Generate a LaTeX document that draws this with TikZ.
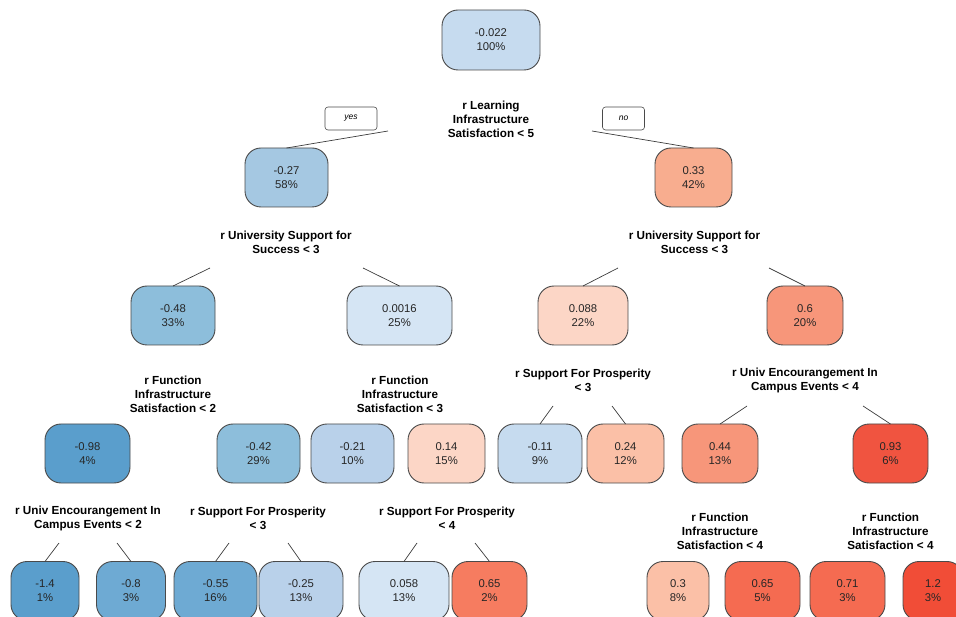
\documentclass[tikz,border=0pt]{standalone}
\usepackage{fontspec}
\setmainfont{Liberation Sans}
\usepackage{tikz}

\definecolor{boxline}{HTML}{4A4A4A}
\definecolor{linegray}{HTML}{3C3C3C}
\definecolor{txt}{HTML}{262626}
\definecolor{b1}{HTML}{C6DBEF}
\definecolor{b2}{HTML}{A5C8E2}
\definecolor{b3}{HTML}{8DBEDB}
\definecolor{b4}{HTML}{D5E5F4}
\definecolor{b5}{HTML}{5A9ECC}
\definecolor{b6}{HTML}{B9D1EA}
\definecolor{b7}{HTML}{6EAAD3}
\definecolor{r1}{HTML}{F8AD8F}
\definecolor{r2}{HTML}{FCD6C6}
\definecolor{r3}{HTML}{F7967A}
\definecolor{r4}{HTML}{FBC0A7}
\definecolor{r5}{HTML}{F05440}
\definecolor{r6}{HTML}{F67C60}
\definecolor{r7}{HTML}{F56B51}
\definecolor{r8}{HTML}{F14D37}

\begin{document}
\begin{tikzpicture}[x=1pt,y=-1pt,
  leaf/.style={draw=boxline, line width=0.9pt, rounded corners=16pt, minimum height=59pt, inner sep=0pt, outer sep=0pt, align=center, text=txt, font=\fontsize{11.3}{14}\selectfont},
  split/.style={align=center, inner sep=0pt, font=\fontsize{11.7}{14}\selectfont\bfseries},
  tag/.style={draw=boxline, line width=0.6pt, rounded corners=3pt, minimum height=23pt, inner sep=0pt, font=\fontsize{8.5}{10}\selectfont\itshape},
  branch/.style={draw=linegray, line width=0.7pt}]
\useasboundingbox (0,0) rectangle (956,617);
\clip (0,0) rectangle (956,617);

\node[leaf, fill=b1, minimum width=98pt, minimum height=60pt] (n1) at (491,40) {-0.022\\100\%};
\node[split] (s1) at (491,119) {r Learning\\Infrastructure\\Satisfaction < 5};
\node[tag, minimum width=52pt] (yes) at (351,118.5) {yes};
\node[tag, minimum width=42pt] (no) at (623.5,118.5) {no};

\node[leaf, fill=b2, minimum width=83pt] (n2) at (286.5,177.5) {-0.27\\58\%};
\node[leaf, fill=r1, minimum width=77pt] (n3) at (693.5,177.5) {0.33\\42\%};
\node[split] (s2) at (286,242) {r University Support for\\Success < 3};
\node[split] (s3) at (694.5,242) {r University Support for\\Success < 3};

\node[leaf, fill=b3, minimum width=84pt] (n4) at (173,315.5) {-0.48\\33\%};
\node[leaf, fill=b4, minimum width=105pt] (n5) at (399.5,315.5) {0.0016\\25\%};
\node[leaf, fill=r2, minimum width=90pt] (n6) at (583,315.5) {0.088\\22\%};
\node[leaf, fill=r3, minimum width=76pt] (n7) at (805,315.5) {0.6\\20\%};
\node[split] (s4) at (173,394.5) {r Function\\Infrastructure\\Satisfaction < 2};
\node[split] (s5) at (400,394.5) {r Function\\Infrastructure\\Satisfaction < 3};
\node[split] (s6) at (583,380) {r Support For Prosperity\\< 3};
\node[split] (s7) at (805,380) {r Univ Encourangement In\\Campus Events < 4};

\node[leaf, fill=b5, minimum width=85pt] (n8) at (87.5,453.5) {-0.98\\4\%};
\node[leaf, fill=b3, minimum width=83pt] (n9) at (258.5,453.5) {-0.42\\29\%};
\node[leaf, fill=b6, minimum width=83pt] (n10) at (352.5,453.5) {-0.21\\10\%};
\node[leaf, fill=r2, minimum width=77pt] (n11) at (446.5,453.5) {0.14\\15\%};
\node[leaf, fill=b1, minimum width=84pt] (n12) at (540,453.5) {-0.11\\9\%};
\node[leaf, fill=r4, minimum width=77pt] (n13) at (625.5,453.5) {0.24\\12\%};
\node[leaf, fill=r3, minimum width=76pt] (n14) at (720,453.5) {0.44\\13\%};
\node[leaf, fill=r5, minimum width=75pt] (n15) at (890.5,453.5) {0.93\\6\%};
\node[split] (s8) at (88,518) {r Univ Encourangement In\\Campus Events < 2};
\node[split] (s9) at (258,518) {r Support For Prosperity\\< 3};
\node[split] (s10) at (447,518) {r Support For Prosperity\\< 4};
\node[split] (s11) at (720,531.5) {r Function\\Infrastructure\\Satisfaction < 4};
\node[split] (s12) at (890.5,531.5) {r Function\\Infrastructure\\Satisfaction < 4};

\node[leaf, fill=b5, minimum width=68pt] (n16) at (45,591) {-1.4\\1\%};
\node[leaf, fill=b7, minimum width=69pt] (n17) at (131,591) {-0.8\\3\%};
\node[leaf, fill=b7, minimum width=83pt] (n18) at (215.5,591) {-0.55\\16\%};
\node[leaf, fill=b6, minimum width=84pt] (n19) at (301,591) {-0.25\\13\%};
\node[leaf, fill=b4, minimum width=90pt] (n20) at (404,591) {0.058\\13\%};
\node[leaf, fill=r6, minimum width=75pt] (n21) at (489.5,591) {0.65\\2\%};
\node[leaf, fill=r4, minimum width=62pt] (n22) at (678,591) {0.3\\8\%};
\node[leaf, fill=r7, minimum width=75pt] (n23) at (762.5,591) {0.65\\5\%};
\node[leaf, fill=r7, minimum width=75pt] (n24) at (847.5,591) {0.71\\3\%};
\node[leaf, fill=r8, minimum width=60pt] (n25) at (933,591) {1.2\\3\%};

\coordinate (s1l) at (388,131);
\coordinate (s1r) at (592,131);
\coordinate (s2l) at (210,268);
\coordinate (s2r) at (363,268);
\coordinate (s3l) at (618,268);
\coordinate (s3r) at (769,268);
\coordinate (s6l) at (553,406);
\coordinate (s6r) at (612,406);
\coordinate (s7l) at (747,406);
\coordinate (s7r) at (863,406);
\coordinate (s8l) at (59,543);
\coordinate (s8r) at (117,543);
\coordinate (s9l) at (229,543);
\coordinate (s9r) at (288,543);
\coordinate (s10l) at (417,543);
\coordinate (s10r) at (475,543);

\draw[branch] (s1l) -- (n2.north);
\draw[branch] (s1r) -- (n3.north);
\draw[branch] (s2l) -- (n4.north);
\draw[branch] (s2r) -- (n5.north);
\draw[branch] (s3l) -- (n6.north);
\draw[branch] (s3r) -- (n7.north);
\draw[branch] (s6l) -- (n12.north);
\draw[branch] (s6r) -- (n13.north);
\draw[branch] (s7l) -- (n14.north);
\draw[branch] (s7r) -- (n15.north);
\draw[branch] (s8l) -- (n16.north);
\draw[branch] (s8r) -- (n17.north);
\draw[branch] (s9l) -- (n18.north);
\draw[branch] (s9r) -- (n19.north);
\draw[branch] (s10l) -- (n20.north);
\draw[branch] (s10r) -- (n21.north);
\end{tikzpicture}
\end{document}
